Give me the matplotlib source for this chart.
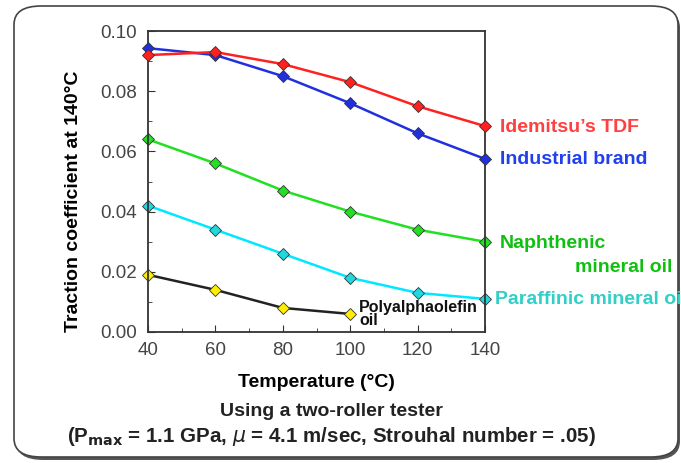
import matplotlib.pyplot as plt
from matplotlib.patches import FancyBboxPatch
from matplotlib.ticker import MultipleLocator

plt.rcParams['font.family'] = ['Liberation Sans', 'DejaVu Sans']

# === Data ===
temps = [40, 60, 80, 100, 120, 140]
idemitsu = [0.092, 0.093, 0.089, 0.083, 0.075, 0.0684]
industrial = [0.0943, 0.092, 0.085, 0.076, 0.066, 0.0575]
naphthenic = [0.064, 0.056, 0.047, 0.040, 0.034, 0.030]
paraffinic = [0.042, 0.034, 0.026, 0.018, 0.013, 0.011]
pao_temps = [40, 60, 80, 100]
pao = [0.019, 0.014, 0.008, 0.006]

fig = plt.figure(figsize=(6.81, 4.63), dpi=100)

# rounded frame with shadow
shadow = FancyBboxPatch((16 / 681, 3 / 463), 664 / 681, 451 / 463,
                        boxstyle="round,pad=0,rounding_size=0.04",
                        transform=fig.transFigure, facecolor='#555555',
                        edgecolor='none', zorder=-2)
frame = FancyBboxPatch((14 / 681, 6 / 463), 664 / 681, 451 / 463,
                       boxstyle="round,pad=0,rounding_size=0.04",
                       transform=fig.transFigure, facecolor='white',
                       edgecolor='#444444', linewidth=1.2, zorder=-1)
fig.patches.extend([shadow, frame])

ax = fig.add_axes([148 / 681, (463 - 332) / 463, 337 / 681, 301 / 463])
ax.patch.set_alpha(0)

mk = dict(marker='D', markersize=6, markeredgecolor='#333333', markeredgewidth=0.6,
          lw=1.8, clip_on=False)
ax.plot(temps, idemitsu, color='#ff2020', markerfacecolor='#ff2020', **mk, zorder=4)
ax.plot(temps, industrial, color='#2030e0', markerfacecolor='#2030e0', **mk, zorder=3)
ax.plot(temps, naphthenic, color='#20e020', markerfacecolor='#20e020', **mk)
ax.plot(temps, paraffinic, color='#00e8ff', markerfacecolor='#20d8e0', **mk)
ax.plot(pao_temps, pao, color='#222222', markerfacecolor='#ffee00', **mk)

ax.set_xlim(40, 140)
ax.set_ylim(0, 0.10)
ax.xaxis.set_major_locator(MultipleLocator(20))
ax.xaxis.set_minor_locator(MultipleLocator(10))
ax.yaxis.set_major_locator(MultipleLocator(0.02))
ax.yaxis.set_minor_locator(MultipleLocator(0.01))
ax.yaxis.set_major_formatter(plt.FuncFormatter(lambda v, p: f"{v:.2f}"))
ax.tick_params(which='both', direction='in', colors='#333333', labelsize=13.5,
               labelcolor='#444444')
ax.tick_params(which='major', length=5)
ax.tick_params(which='minor', length=3)
ax.tick_params(axis='x', pad=7)
ax.tick_params(axis='y', pad=8)
for s in ax.spines.values():
    s.set_color('#333333')
    s.set_linewidth(1.3)

ax.set_ylabel("Traction coefficient at 140°C", fontsize=14, fontweight='bold')
ax.yaxis.set_label_coords(-0.196, 0.435)
ax.set_xlabel("Temperature (°C)", fontsize=14, fontweight='bold', labelpad=11)

# series labels on the right
lab = dict(fontsize=14, fontweight='bold', va='center')
fig.text(500 / 681, 1 - 127 / 463, "Idemitsu’s TDF", color='#ff4040', **lab)
fig.text(500 / 681, 1 - 159 / 463, "Industrial brand", color='#2040f0', **lab)
fig.text(500 / 681, 1 - 243 / 463, "Naphthenic", color='#10c010', **lab)
fig.text(575 / 681, 1 - 267 / 463, "mineral oil", color='#10c010', **lab)
fig.text(495 / 681, 1 - 299 / 463, "Paraffinic mineral oil", color='#30d0c8', **lab)
fig.text(359 / 681, 1 - 314 / 463, "Polyalphaolefin\noil", color='#111111', fontsize=11.5,
         fontweight='bold', va='center', linespacing=0.8)

fig.text(331 / 681, 1 - 412 / 463, "Using a two-roller tester", ha='center', va='center',
         fontsize=14, fontweight='bold', color='#222222')
fig.text(331 / 681, 1 - 436 / 463,
         r"(P$_{\mathbf{max}}$ = 1.1 GPa, $\mu$ = 4.1 m/sec, Strouhal number = .05)",
         ha='center', va='center', fontsize=14.8, fontweight='bold', color='#222222')

fig.savefig("out.png", dpi=100)
